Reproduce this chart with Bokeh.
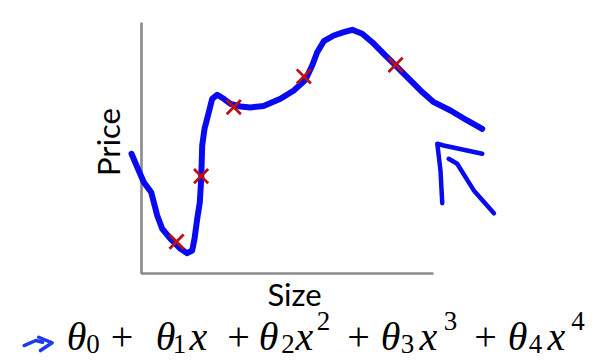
import math
from bokeh.plotting import figure
from bokeh.models import Label, Range1d
from bokeh.embed import file_html
from bokeh.resources import INLINE

# ---- data (Size / Price in arbitrary units, axes span 0..10) ----
point_size = [1.20, 2.04, 3.16, 5.56, 8.70]
point_price = [1.27, 3.88, 6.63, 7.85, 8.31]

curve_size = [-0.342, -0.147, 0.079, 0.332, 0.421, 0.538, 0.709, 0.993, 1.336, 1.565,
              1.736, 1.815, 1.908, 1.997, 2.045, 2.079, 2.158, 2.305, 2.421, 2.592,
              2.818, 3.048, 3.390, 3.733, 4.178, 4.760, 5.216, 5.616, 5.846, 6.017,
              6.243, 6.586, 6.928, 7.216, 7.558, 7.901, 8.298, 8.699, 9.099, 9.555,
              10.010, 10.582, 11.154, 11.668]
curve_price = [4.769, 4.235, 3.637, 3.239, 2.841, 2.311, 1.781, 1.382, 0.984, 0.809,
               0.916, 1.382, 2.179, 2.841, 3.773, 5.100, 5.765, 6.426, 6.960, 7.120,
               6.960, 6.761, 6.653, 6.614, 6.673, 6.960, 7.291, 7.717, 8.287, 8.817,
               9.255, 9.482, 9.614, 9.709, 9.550, 9.215, 8.753, 8.287, 7.821, 7.291,
               6.825, 6.494, 6.096, 5.765]

# hand-drawn arrow pointing at the curve
arrow1_x = [10.30, 10.24, 10.13, 10.35, 11.67]
arrow1_y = [2.80, 4.10, 5.17, 5.10, 4.77]
arrow2_x = [10.52, 10.81, 11.38, 12.07]
arrow2_y = [4.57, 4.37, 3.31, 2.40]

# hand-drawn "->" before the formula
mark1_x = [-4.02, -3.62, -3.39]
mark1_y = [-2.87, -2.67, -2.74]
mark2_x = [-3.52, -3.06, -3.46]
mark2_y = [-2.54, -2.76, -3.07]

x_axis_label = "Size"
y_axis_label = "Price"

# formula tokens: (text, kind)
formula = [("θ", "v"), ("0", "sub"), ("+", "op"),
           ("θ", "v"), ("1", "sub"), ("x", "v"), ("+", "op"),
           ("θ", "v"), ("2", "sub"), ("x", "v"), ("2", "sup"), ("+", "op"),
           ("θ", "v"), ("3", "sub"), ("x", "v"), ("3", "sup"), ("+", "op"),
           ("θ", "v"), ("4", "sub"), ("x", "v"), ("4", "sup")]
formula_cx = [76, 92.5, 121.5,
              165, 179, 198, 238,
              268, 287.5, 304, 323, 358,
              390, 407, 428, 450, 485,
              517, 535, 556, 577.5]

W, H = 602, 363
SHIFT = 9  # labels render lower than their anchor by about this much

p = figure(width=W, height=H, output_backend="svg", toolbar_location=None,
           x_range=Range1d(-4.829, 15.788), y_range=Range1d(-3.586, 10.876),
           min_border=0, x_axis_location=None, y_axis_location=None)
p.grid.visible = False
p.outline_line_color = None
p.background_fill_color = "white"
p.border_fill_color = "white"

# axes (plain gray lines)
p.line([0, 0, 10], [10, 0, 0], line_color="#8a8a8a", line_width=2.6)

# fitted wiggly curve
blue = "#0a0af0"
p.line(curve_size, curve_price, line_color=blue, line_width=6,
       line_join="round", line_cap="round")
p.line(arrow1_x, arrow1_y, line_color=blue, line_width=4.5,
       line_join="round", line_cap="round")
p.line(arrow2_x, arrow2_y, line_color=blue, line_width=4.5,
       line_join="round", line_cap="round")
p.line(mark1_x, mark1_y, line_color="#1a3af0", line_width=3.5,
       line_join="round", line_cap="round")
p.line(mark2_x, mark2_y, line_color="#1a3af0", line_width=3.5,
       line_join="round", line_cap="round")

# data points
p.scatter(point_size, point_price, marker="x", size=20, line_color="#bf1010",
          line_width=2.8)

# axis labels
p.add_layout(Label(x=118 - SHIFT - 2, y=H - 141.5, x_units="screen", y_units="screen",
                   text=y_axis_label, angle=math.pi / 2, text_align="center",
                   text_baseline="alphabetic", text_font="Lato",
                   text_font_size="31px", text_color="black"))
p.add_layout(Label(x=294, y=H - 302 + SHIFT, x_units="screen", y_units="screen",
                   text=x_axis_label, text_align="center",
                   text_baseline="alphabetic", text_font="Lato",
                   text_font_size="31px", text_color="black"))

# formula
base = 351 - SHIFT - 6
for (t, kind), cx in zip(formula, formula_cx):
    if kind == "v":
        size, style, yb = "40px", "italic", base
    elif kind == "op":
        size, style, yb = "40px", "normal", base
    elif kind == "sub":
        size, style, yb = "27px", "normal", base + 7
    else:
        size, style, yb = "27px", "normal", base - 16
    p.add_layout(Label(x=cx, y=H - yb, x_units="screen", y_units="screen",
                       text=t, text_align="center", text_baseline="alphabetic",
                       text_font="Liberation Serif", text_font_style=style,
                       text_font_size=size, text_color="black"))

open("out.html", "w").write(file_html(p, INLINE))
